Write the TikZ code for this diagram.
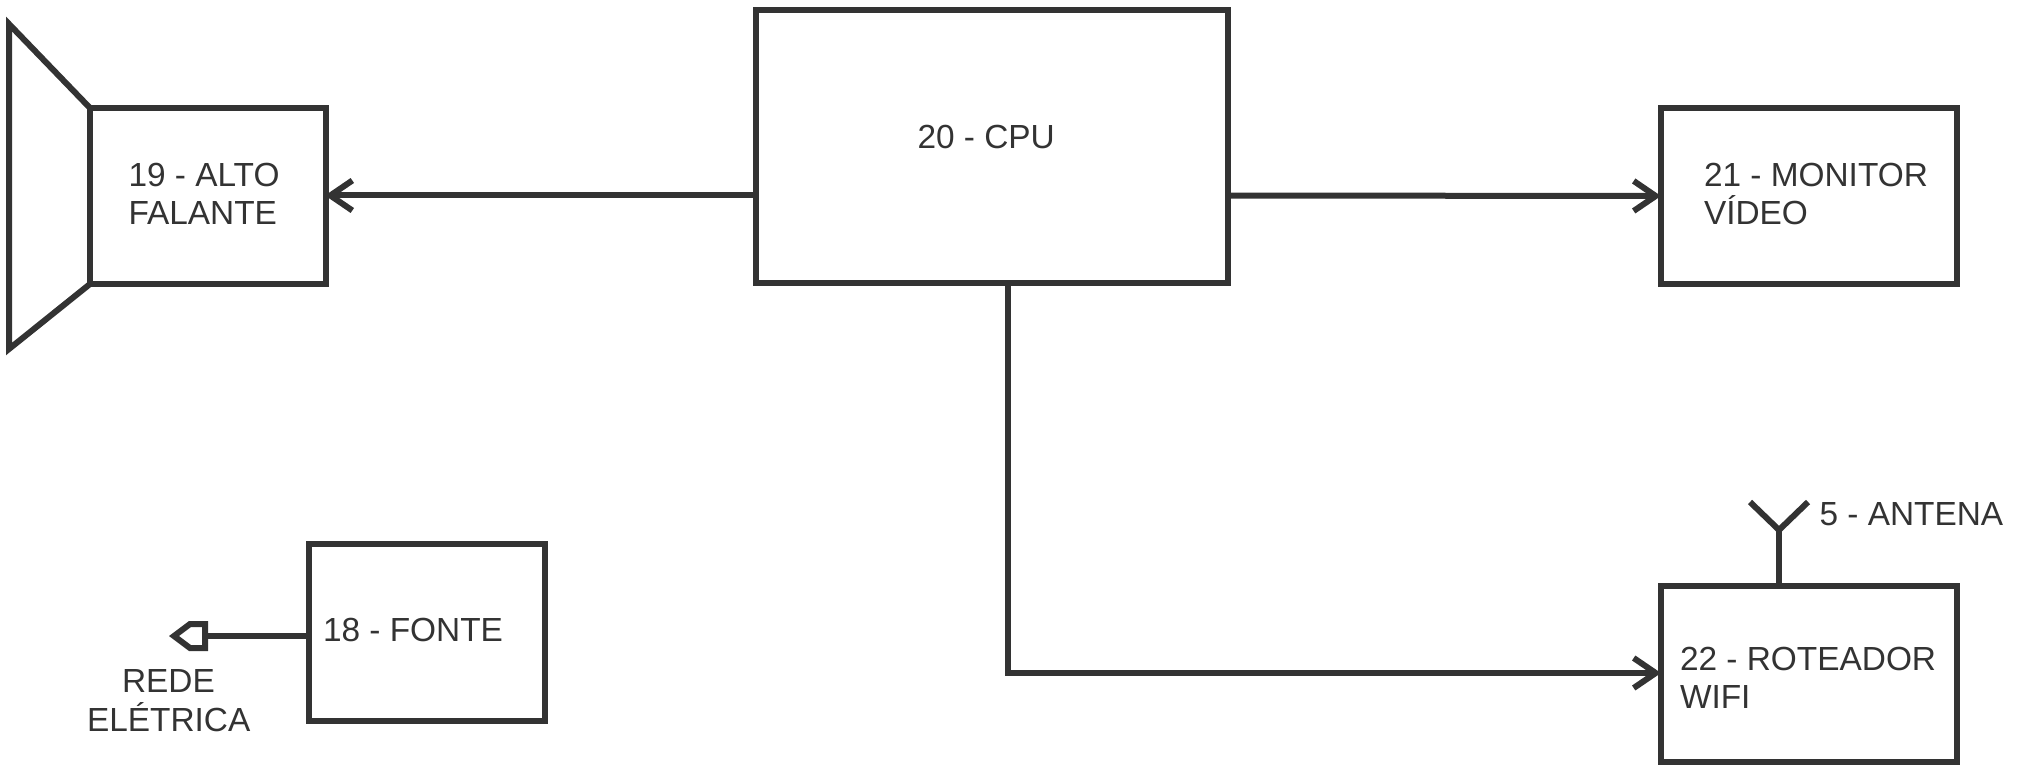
\documentclass[tikz,border=0pt]{standalone}
\usepackage{fontspec}
\setmainfont{Liberation Sans}
\usetikzlibrary{arrows.meta}
\definecolor{ink}{HTML}{333333}
\tikzset{
  blockbox/.style={draw=ink,line width=3pt,inner sep=0pt,outer sep=0pt,anchor=north west},
  wire/.style={draw=ink,line width=3pt},
  arrowwire/.style={wire,-{Straight Barb[length=11pt,width=15pt,line width=3pt]}},
  lbl/.style={text=ink,font=\fontsize{16.7}{19}\selectfont,inner sep=0pt,outer sep=0pt,anchor=base west,align=left}
}
\begin{document}
\begin{tikzpicture}[x=0.5pt,y=-0.5pt]
\useasboundingbox (0,0) rectangle (2017,775);
% boxes
\node[blockbox,minimum width=118pt,minimum height=88pt] (spk) at (90,108) {};
\node[blockbox,minimum width=236pt,minimum height=136.5pt] (cpu) at (756,10) {};
\node[blockbox,minimum width=148pt,minimum height=88pt] (mon) at (1661,108) {};
\node[blockbox,minimum width=148pt,minimum height=88pt] (rt) at (1661,586) {};
\node[blockbox,minimum width=118pt,minimum height=88.5pt] (psu) at (309,544) {};
% speaker cone
\draw[wire,miter limit=10] (spk.north west) -- (9,24) -- (9,349) -- (spk.south west);
% free ends
\coordinate (cpuport) at (1008,284);
\coordinate (antfoot) at (1779,530);
\coordinate (antl) at (1750,502);
\coordinate (antr) at (1808,502);
\coordinate (rtport) at (1779,586);
\coordinate (psuport) at (309,636);
\coordinate (plugback) at (205,636);
% connectors
\draw[arrowwire] (cpu.west |- 0,195.5) -- ([xshift=-0.5pt]spk.east |- 0,195.5);
\draw[arrowwire] (cpu.east |- 0,195.5) -- (mon.west |- 0,196);
\draw[arrowwire] (cpuport) |- (rt.west |- 0,673);
% antenna
\draw[wire] (rtport) -- (antfoot);
\draw[wire,miter limit=10] (antl) -- (antfoot) -- (antr);
% plug
\draw[wire] (psuport) -- (plugback);
\draw[wire] (205,624) -- (190,624) -- (174,636) -- (190,648) -- (205,648) -- cycle;
% labels
\node[lbl] (tspk) at (128.5,224.5) {19 - ALTO\\FALANTE};
\node[lbl] (tcpu) at (917.5,149) {20 - CPU};
\node[lbl] (tmon) at (1704,225) {21 - MONITOR\\VÍDEO};
\node[lbl] (trt) at (1680,708) {22 - ROTEADOR\\WIFI};
\node[lbl] (tant) at (1819.5,525) {5 - ANTENA};
\node[lbl] (tpsu) at (323,641) {18 - FONTE};
\node[lbl] (trede) at (122,692) {REDE};
\node[lbl] (tele) at (87,731) {ELÉTRICA};
\end{tikzpicture}
\end{document}
